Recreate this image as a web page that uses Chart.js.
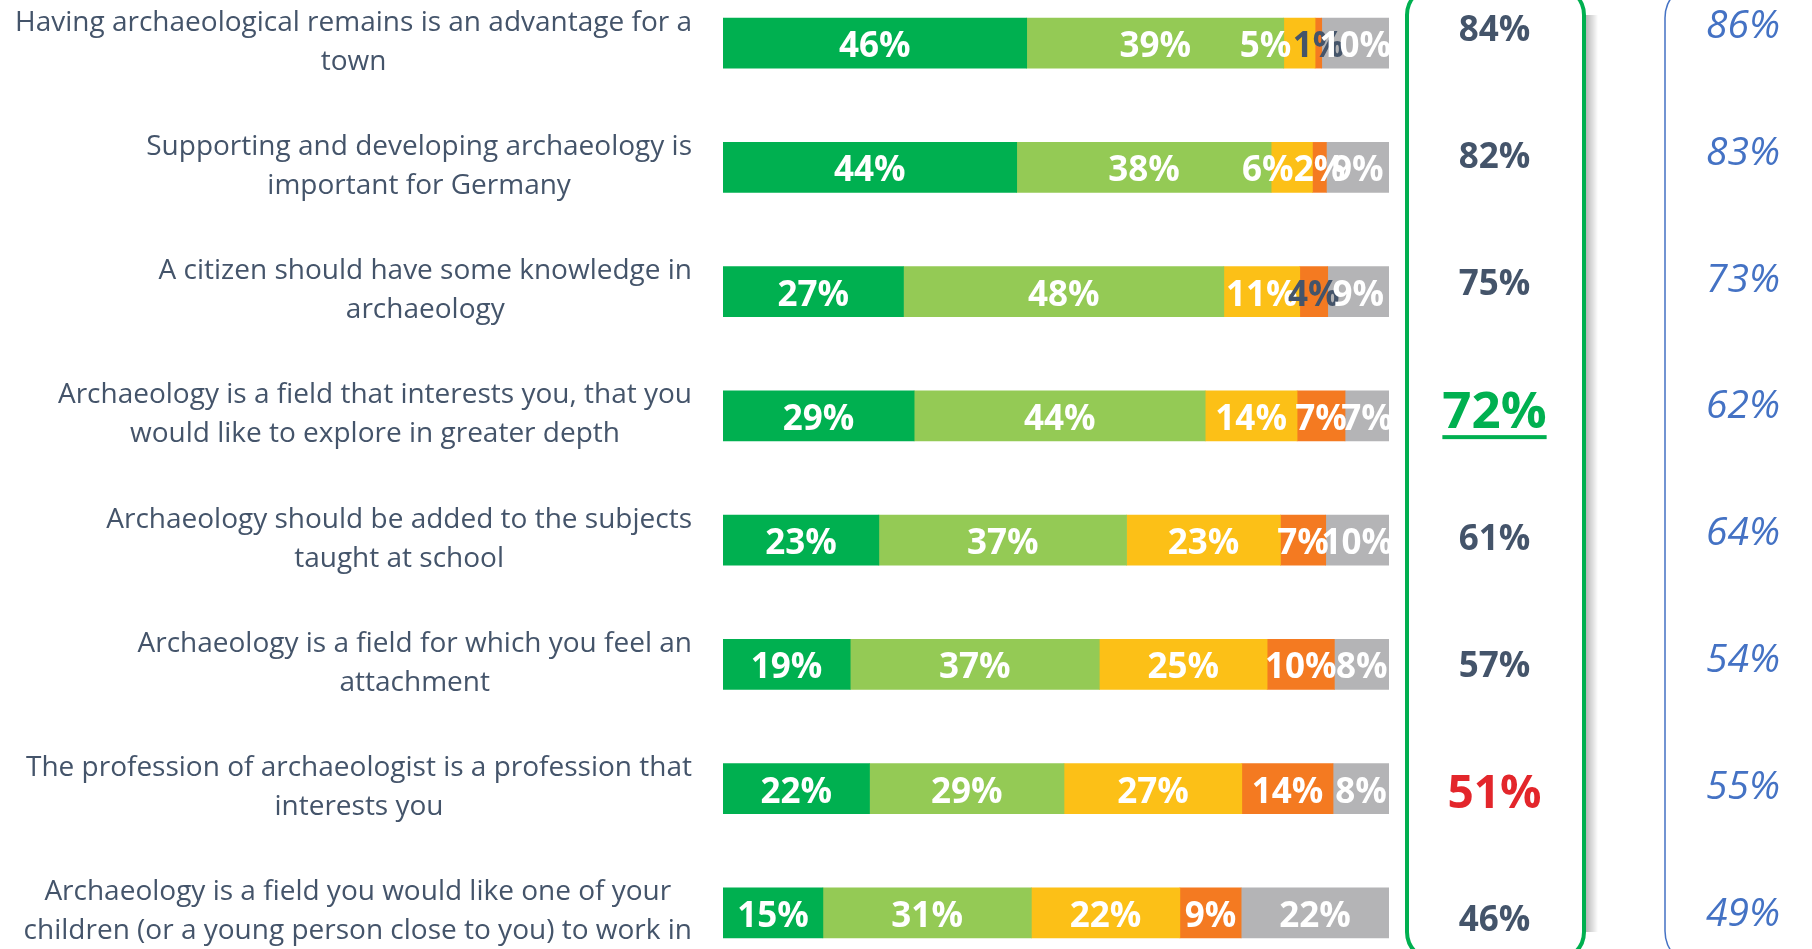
<!DOCTYPE html>
<html>
<head>
<meta charset="utf-8">
<script src="https://cdn.jsdelivr.net/npm/chart.js@4.4.1/dist/chart.umd.min.js"></script>
<style>
html,body{margin:0;padding:0;background:#ffffff;overflow:hidden;width:1812px;height:949px;}
#wrap{position:absolute;left:0;top:-19px;width:1812px;height:994px;}
</style>
</head>
<body>
<div id="wrap"><canvas id="c" width="1812" height="994"></canvas></div>
<script>
// ---- DATA ----
const categories = [
  ["Having archaeological remains is an advantage for a", "town"],
  ["Supporting and developing archaeology is", "important for Germany"],
  ["A citizen should have some knowledge in", "archaeology"],
  ["Archaeology is a field that interests you, that you", "would like to explore in greater depth"],
  ["Archaeology should be added to the subjects", "taught at school"],
  ["Archaeology is a field for which you feel an", "attachment"],
  ["The profession of archaeologist is a profession that", "interests you"],
  ["Archaeology is a field you would like one of your", "children (or a young person close to you) to work in"]
];
const totallyAgree    = [45.6, 44.1, 27.1, 28.7, 23.4, 19.1, 22.0, 15.0];
const somewhatAgree   = [38.6, 38.2, 48.1, 43.7, 37.2, 37.4, 29.2, 31.3];
const somewhatDisagree= [4.7, 6.2, 11.4, 13.8, 23.1, 25.2, 26.7, 22.3];
const totallyDisagree = [1.0, 2.1, 4.2, 7.2, 6.8, 10.1, 13.7, 9.2];
const dontKnow        = [10.1, 9.4, 9.2, 6.6, 9.5, 8.2, 8.4, 22.2];
const totalAgree      = [84, 82, 75, 72, 61, 57, 51, 46];
const comparison      = [86, 83, 73, 62, 64, 54, 55, 49];
const xTicks          = [0, 100];

// ---- STYLE ----
const seriesColors = ['#00B050', '#94CA55', '#FCC017', '#F47A21', '#B4B4B6'];
const darkLabels = [[3, 0], [3, 2]];            // [dataset, row] whose labels are dark
const labelNudges = [[2, 0, -34], [2, 1, -24]]; // [dataset, row, px] label shifts
const TEXT_DARK = '#44546A';
const OFF = 19; // page-to-canvas vertical shift

const diffs = totalAgree.map((v, i) => v - comparison[i]);
const bestIdx = diffs.indexOf(Math.max(...diffs));
const worstIdx = diffs.indexOf(Math.min(...diffs));

function roundRectPath(ctx, x1, y1, x2, y2, r) {
  ctx.beginPath();
  ctx.moveTo(x1 + r, y1);
  ctx.lineTo(x2 - r, y1);
  ctx.arcTo(x2, y1, x2, y1 + r, r);
  ctx.lineTo(x2, y2 - r);
  ctx.arcTo(x2, y2, x2 - r, y2, r);
  ctx.lineTo(x1 + r, y2);
  ctx.arcTo(x1, y2, x1, y2 - r, r);
  ctx.lineTo(x1, y1 + r);
  ctx.arcTo(x1, y1, x1 + r, y1, r);
  ctx.closePath();
}

const overlay = {
  id: 'overlay',
  afterDatasetsDraw(chart) {
    const ctx = chart.ctx;
    ctx.save();
    const fs = 35;
    ctx.font = 'bold ' + fs + 'px "Open Sans"';
    ctx.textAlign = 'center';
    ctx.textBaseline = 'alphabetic';
    chart.data.datasets.forEach((ds, di) => {
      const meta = chart.getDatasetMeta(di);
      meta.data.forEach((el, i) => {
        const v = ds.data[i];
        const nudge = labelNudges.find(p => p[0] === di && p[1] === i);
        const cx = (el.x + el.base) / 2 + (nudge ? nudge[2] : 0);
        const dark = darkLabels.some(p => p[0] === di && p[1] === i);
        ctx.fillStyle = dark ? TEXT_DARK : '#ffffff';
        ctx.fillText(Math.round(v) + '%', cx, el.y + 1.5 + fs * 0.357);
      });
    });
    ctx.restore();
  },
  afterDraw(chart) {
    const ctx = chart.ctx;
    const ys = chart.scales.y;
    ctx.save();
    // category labels (each block centered, right edge aligned)
    const lfs = 28, lh = 39, rightEdge = 692;
    ctx.font = lfs + 'px "Open Sans"';
    ctx.fillStyle = TEXT_DARK;
    ctx.textAlign = 'center';
    ctx.textBaseline = 'alphabetic';
    categories.forEach((lines, i) => {
      const cy = ys.getPixelForValue(i);
      const w = Math.max(...lines.map(l => ctx.measureText(l).width));
      const cx = rightEdge - w / 2;
      lines.forEach((l, k) => {
        ctx.fillText(l, cx, cy + (k - (lines.length - 1) / 2) * lh + 7);
      });
    });

    // green box with shadow on right
    const gx1 = 1407, gx2 = 1584, gy1 = -13 + OFF, gy2 = 960 + OFF, gr = 28;
    const grad = ctx.createLinearGradient(gx2 + 2, 0, gx2 + 14, 0);
    grad.addColorStop(0, 'rgba(0,0,0,0.28)');
    grad.addColorStop(1, 'rgba(0,0,0,0)');
    ctx.fillStyle = grad;
    ctx.fillRect(gx2 + 2, gy1 + gr, 12, gy2 - gy1 - 2 * gr);
    ctx.lineWidth = 4;
    ctx.strokeStyle = '#00B050';
    roundRectPath(ctx, gx1, gy1, gx2, gy2, gr);
    ctx.stroke();

    // blue box
    ctx.lineWidth = 1.5;
    ctx.strokeStyle = '#4472C4';
    roundRectPath(ctx, 1665, -18 + OFF, 1826, 967 + OFF, 36);
    ctx.stroke();

    // summary values
    ctx.textAlign = 'center';
    totalAgree.forEach((v, i) => {
      const yc = ys.getPixelForValue(i) + 2.9 * (i - 3.5) - 4.5;
      let size = 35, color = TEXT_DARK;
      if (i === bestIdx) { size = 51; color = '#00B050'; }
      else if (i === worstIdx) { size = 46; color = '#E3262B'; }
      ctx.font = 'bold ' + size + 'px "Open Sans"';
      ctx.fillStyle = color;
      const base = yc + size * 0.357;
      const txt = v + '%';
      ctx.fillText(txt, 1494.5, base);
      if (i === bestIdx) {
        const w = ctx.measureText(txt).width;
        ctx.fillRect(1494.5 - w / 2, base + 7, w, 4);
      }
    });
    ctx.font = 'italic 39px "Open Sans"';
    ctx.fillStyle = '#4472C4';
    comparison.forEach((v, i) => {
      const yc = ys.getPixelForValue(i) + 2.6 * (i - 3.5) - 10;
      ctx.fillText(v + '%', 1743, yc + 39 * 0.357);
    });
    ctx.restore();
  }
};

function build() {
  const names = ['Totally agree', 'Somewhat agree', 'Somewhat disagree', 'Totally disagree', "Don't know"];
  const series = [totallyAgree, somewhatAgree, somewhatDisagree, totallyDisagree, dontKnow];
  new Chart(document.getElementById('c'), {
    type: 'bar',
    data: {
      labels: categories,
      datasets: series.map((d, k) => ({
        label: names[k],
        data: d,
        backgroundColor: seriesColors[k],
        borderWidth: 0,
        barThickness: 50
      }))
    },
    options: {
      indexAxis: 'y',
      responsive: false,
      animation: false,
      layout: { padding: { left: 723, right: 423, top: 0, bottom: 0 } },
      plugins: { legend: { display: false }, tooltip: { enabled: false } },
      scales: {
        x: { stacked: true, min: xTicks[0], max: xTicks[1], display: false },
        y: { stacked: true, display: false }
      }
    },
    plugins: [overlay]
  });
}

Promise.all([
  document.fonts.load('bold 35px "Open Sans"'),
  document.fonts.load('28px "Open Sans"'),
  document.fonts.load('italic 39px "Open Sans"')
]).then(build, build);
</script>
</body>
</html>
